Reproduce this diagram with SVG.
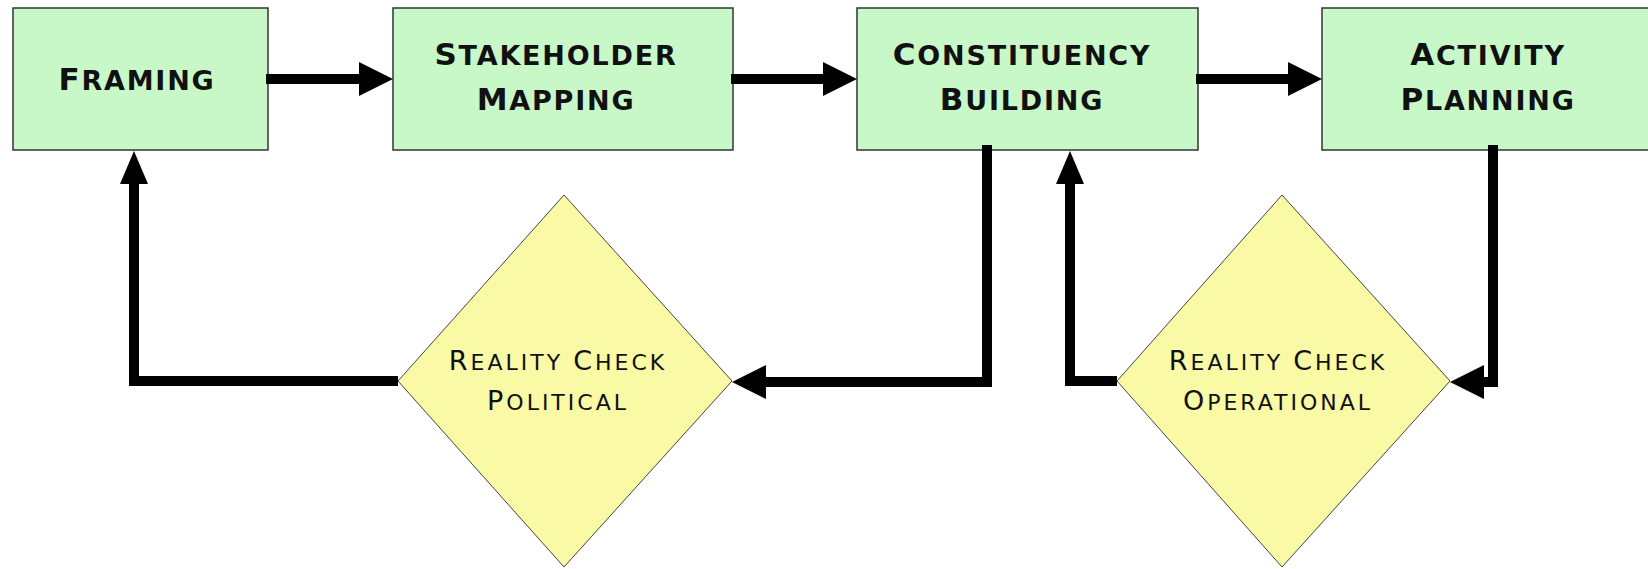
<svg xmlns="http://www.w3.org/2000/svg" width="1648" height="569" viewBox="0 0 1648 569">
<style>
.box{fill:#c8f7c8;stroke:#333;stroke-width:1.5}
.dia{fill:#f9f9a6;stroke:#444;stroke-width:1}
.bt{font-family:"DejaVu Sans",sans-serif;font-weight:bold;font-size:27px;letter-spacing:1.8px;fill:#111;text-anchor:middle}
.bt .c{font-size:31px}
.dt{font-family:"DejaVu Sans",sans-serif;font-size:22px;letter-spacing:3px;fill:#111;text-anchor:middle}
.dt .c{font-size:27px}
.con{fill:none;stroke:#000;stroke-width:10;stroke-linejoin:miter}
.h{marker-end:url(#ah)}
.v{marker-end:url(#av)}
</style>
<defs>
<marker id="ah" markerUnits="userSpaceOnUse" markerWidth="34" markerHeight="34" viewBox="0 0 34 34" refX="0" refY="17" orient="auto"><path d="M0,0 L34,17 L0,34 Z" fill="#000"/></marker>
<marker id="av" markerUnits="userSpaceOnUse" markerWidth="33" markerHeight="28" viewBox="0 0 33 28" refX="0" refY="14" orient="auto"><path d="M0,0 L33,14 L0,28 Z" fill="#000"/></marker>
</defs>
<rect width="1648" height="569" fill="#fff"/>
<g id="framing">
<rect class="box" x="13" y="8" width="255" height="142"/>
<text class="bt" x="137" y="90"><tspan class="c">F</tspan>RAMING</text>
</g>
<g id="stakeholder-mapping">
<rect class="box" x="393" y="8" width="340" height="142"/>
<text class="bt" x="556" y="65"><tspan class="c">S</tspan>TAKEHOLDER</text>
<text class="bt" x="556" y="110"><tspan class="c">M</tspan>APPING</text>
</g>
<g id="constituency-building">
<rect class="box" x="857" y="8" width="341" height="142"/>
<text class="bt" x="1022" y="65"><tspan class="c">C</tspan>ONSTITUENCY</text>
<text class="bt" x="1022" y="110"><tspan class="c">B</tspan>UILDING</text>
</g>
<g id="activity-planning">
<rect class="box" x="1322" y="8" width="340" height="142"/>
<text class="bt" x="1488" y="65"><tspan class="c">A</tspan>CTIVITY</text>
<text class="bt" x="1488" y="110"><tspan class="c">P</tspan>LANNING</text>
</g>
<g id="reality-check-political">
<polygon class="dia" points="564,195 732,381 564,567 398,381"/>
<text class="dt" x="558" y="370"><tspan class="c">R</tspan>EALITY <tspan class="c">C</tspan>HECK</text>
<text class="dt" x="558" y="410"><tspan class="c">P</tspan>OLITICAL</text>
</g>
<g id="reality-check-operational">
<polygon class="dia" points="1282,195 1450,381 1282,567 1117,381"/>
<text class="dt" x="1278" y="370"><tspan class="c">R</tspan>EALITY <tspan class="c">C</tspan>HECK</text>
<text class="dt" x="1278" y="410"><tspan class="c">O</tspan>PERATIONAL</text>
</g>
<g id="connectors">
<path class="con h" d="M266,79 H359"/>
<path class="con h" d="M731,79 H823"/>
<path class="con h" d="M1196,79 H1288"/>
<path class="con h" d="M987,145 V382 H766"/>
<path class="con v" d="M398,381 H134 V184"/>
<path class="con v" d="M1117,381 H1070 V184"/>
<path class="con h" d="M1493,145 V382 H1484"/>
</g>
</svg>
